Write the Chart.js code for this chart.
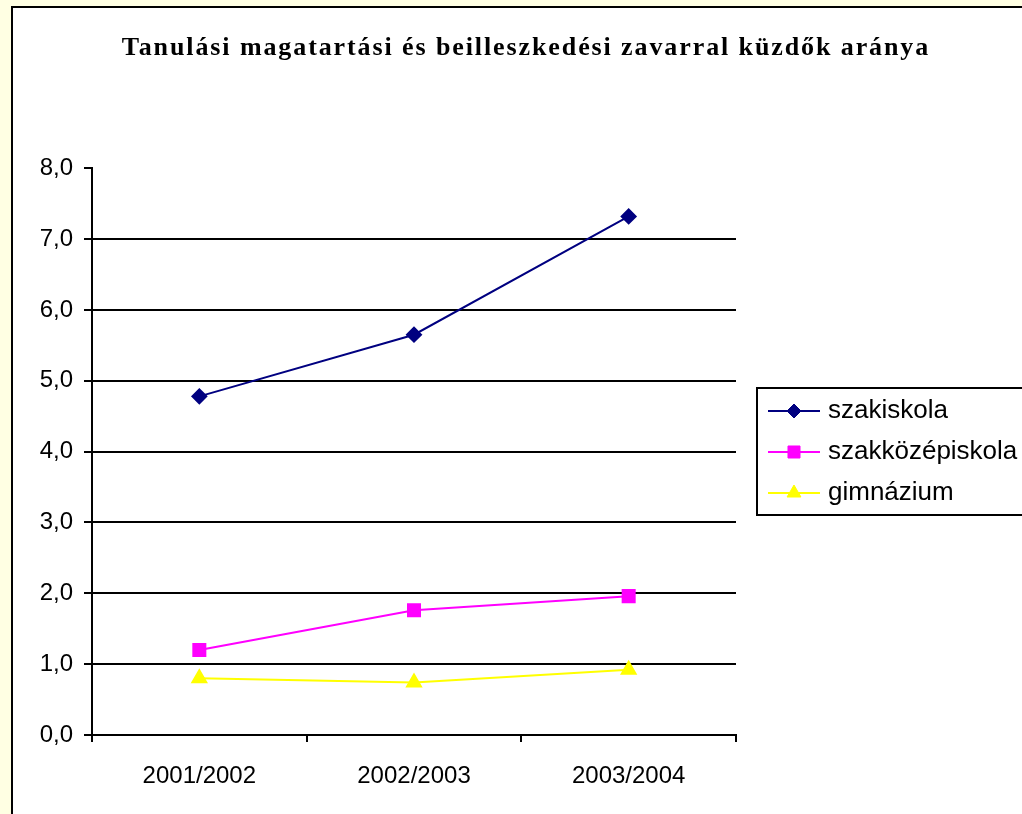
<!DOCTYPE html>
<html>
<head>
<meta charset="utf-8">
<script src="https://cdn.jsdelivr.net/npm/chart.js@4"></script>
<style>
  html, body { margin: 0; padding: 0; background: #FFFFE3; overflow: hidden; }
  #card {
    position: absolute; left: 11px; top: 6px; width: 1100px; height: 900px;
    background: #fff; border: 2px solid #000;
  }
  #chart { position: absolute; left: 0; top: 0; }
</style>
</head>
<body>
<div id="card"></div>
<canvas id="chart" width="1052" height="814"></canvas>
<script>
// adatok
var evek = ["2001/2002", "2002/2003", "2003/2004"];
var szakiskola = [4.78, 5.65, 7.32];
var szakkozepiskola = [1.20, 1.76, 1.96];
var gimnazium = [0.80, 0.74, 0.92];

var legendBox = {
    id: "legendBox",
    afterDraw: function(chart) {
        var ctx = chart.ctx;
        ctx.save();
        ctx.lineWidth = 2;
        ctx.strokeStyle = "#000";
        ctx.strokeRect(757, 388, 400, 127);
        chart.data.datasets.forEach(function(ds, i) {
            var y = 411 + i * 41;
            ctx.strokeStyle = ds.borderColor;
            ctx.lineWidth = 2;
            ctx.beginPath();
            ctx.moveTo(768, y);
            ctx.lineTo(820, y);
            ctx.stroke();
            ctx.fillStyle = ds.backgroundColor;
            ctx.strokeStyle = ds.borderColor;
            ctx.lineWidth = 1;
            Chart.helpers.drawPoint(ctx, {
                pointStyle: ds.pointStyle,
                radius: ds.pointRadius,
                borderWidth: 1,
                rotation: 0
            }, 794, y);
            ctx.fillStyle = "#000";
            ctx.font = "26px 'Liberation Sans', Arial, sans-serif";
            ctx.textBaseline = "middle";
            ctx.textAlign = "left";
            ctx.fillText(ds.label, 828, y);
        });
        ctx.restore();
    }
};

var chart = new Chart("chart", {
    type: "line",
    data: {
        labels: evek,
        datasets: [{
            label: "szakiskola",
            data: szakiskola,
            borderColor: "#000080",
            backgroundColor: "#000080",
            borderWidth: 2,
            pointStyle: "rectRot",
            pointRadius: 7,
            fill: false
        }, {
            label: "szakközépiskola",
            data: szakkozepiskola,
            borderColor: "#FF00FF",
            backgroundColor: "#FF00FF",
            borderWidth: 2,
            pointStyle: "rect",
            pointRadius: 8.5,
            fill: false
        }, {
            label: "gimnázium",
            data: gimnazium,
            borderColor: "#FFFF00",
            backgroundColor: "#FFFF00",
            borderWidth: 2,
            pointStyle: "triangle",
            pointRadius: 8,
            fill: false
        }]
    },
    options: {
        responsive: false,
        animation: false,
        devicePixelRatio: 1,
        plugins: {
            legend: { display: false },
            tooltip: { enabled: false },
            title: {
                display: true,
                text: "Tanulási magatartási és beilleszkedési zavarral küzdők aránya",
                color: "#000",
                font: { family: "'Liberation Serif', 'Times New Roman', serif", size: 26, weight: "bold" },
                padding: { top: 33, bottom: 104 }
            }
        },
        scales: {
            x: {
                offset: true,
                afterFit: function(scale) { scale.height = 79; },
                grid: {
                    display: true,
                    offset: true,
                    drawOnChartArea: false,
                    tickLength: 7,
                    tickColor: "#000",
                    lineWidth: 2
                },
                border: { color: "#000", width: 2 },
                ticks: {
                    color: "#000",
                    padding: 20,
                    maxRotation: 0,
                    font: { family: "'Liberation Sans', Arial, sans-serif", size: 24 }
                }
            },
            y: {
                min: 0,
                max: 8,
                afterFit: function(scale) { scale.width = 92; },
                grid: {
                    color: function(c) { return c.tick && c.tick.value === 8 ? "rgba(0,0,0,0)" : "#000"; },
                    tickColor: "#000",
                    lineWidth: 2,
                    tickLength: 8
                },
                border: { color: "#000", width: 2 },
                ticks: {
                    stepSize: 1,
                    color: "#000",
                    padding: 11,
                    font: { family: "'Liberation Sans', Arial, sans-serif", size: 24 },
                    callback: function(v) { return v.toFixed(1).replace(".", ","); }
                }
            },
            // empty space on the right for the legend
            jobb: {
                type: "linear",
                position: "right",
                afterFit: function(scale) { scale.width = 316; },
                grid: { display: false },
                border: { display: false },
                ticks: { display: false }
            }
        }
    },
    plugins: [legendBox]
});

// the Excel title is spaced out a bit
var titleDraw = chart.titleBlock.draw;
chart.titleBlock.draw = function() {
    this.ctx.letterSpacing = "1.9px";
    titleDraw.apply(this, arguments);
    this.ctx.letterSpacing = "0px";
};
chart.update();
</script>
</body>
</html>
